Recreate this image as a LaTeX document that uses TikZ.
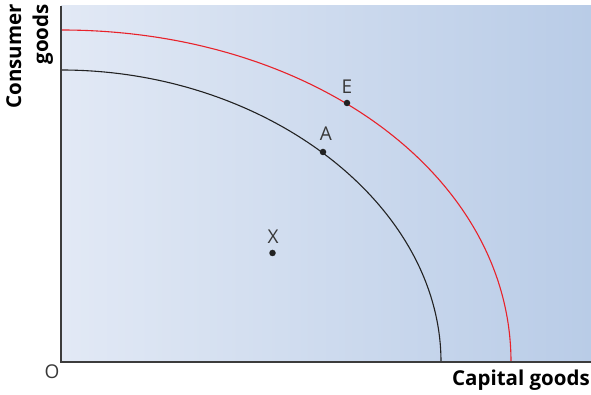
\documentclass[tikz,border=0pt]{standalone}
\usepackage{fontspec}
\setmainfont{Open Sans}
\usetikzlibrary{arrows.meta, positioning, calc}
\usepackage{xcolor}
\definecolor{bgl}{HTML}{E2E9F5}
\definecolor{bgr}{HTML}{B9CCE7}
\definecolor{axis}{HTML}{3C3C3C}
\definecolor{ppf}{HTML}{222222}
\definecolor{ppfnew}{HTML}{E8222A}
\tikzset{
  ax/.style={draw=axis, line width=1.4pt},
  crv/.style={draw=ppf, line width=1.1pt},
  crvn/.style={crv, draw=ppfnew},
  pt/.style={circle, fill=ppf, inner sep=0pt, minimum size=6.5pt},
  lbl/.style={font=\fontsize{19}{19}\selectfont, text=ppf!90, inner sep=0pt},
  axl/.style={font=\fontsize{20.5}{27}\selectfont\bfseries, text=black, inner sep=0pt},
}

\begin{document}
\begin{tikzpicture}[x=1pt, y=1pt]
\useasboundingbox (0,0) rectangle (591,395);
% panel
\shade[left color=bgl, right color=bgr] (61,33) rectangle (591,389);
% production possibility curves
\coordinate (o) at (61,33);
\coordinate (b0) at (61,325);
\coordinate (b1) at (441,33);
\coordinate (r0) at (61,365);
\coordinate (r1) at (511,33);
\draw[crv] (b0) .. controls (266,325) and (441,191) .. (b1);
\draw[crvn] (r0) .. controls (313,365) and (511,219) .. (r1);
% axes
\draw[ax] (61,389) -- (o) -- (591,33);
% points
\node[pt] (a) at (323,243) {};
\node[pt] (e) at (347,292) {};
\node[pt] (x) at (272.5,142) {};
\node[lbl, above=7.5pt of a, xshift=3pt] (al) {A};
\node[lbl, above=5.5pt of e] (el) {E};
\node[lbl, above=5.5pt of x, xshift=0.5pt] (xl) {X};
\node[lbl, anchor=center] (ol) at (52,23) {O};
% axis titles
\node[axl, anchor=east] (cap) at (590,15) {Capital goods};
\node[axl, rotate=90, align=right, anchor=north east] (con) at (6,391) {Consumer\\goods};
\end{tikzpicture}
\end{document}
